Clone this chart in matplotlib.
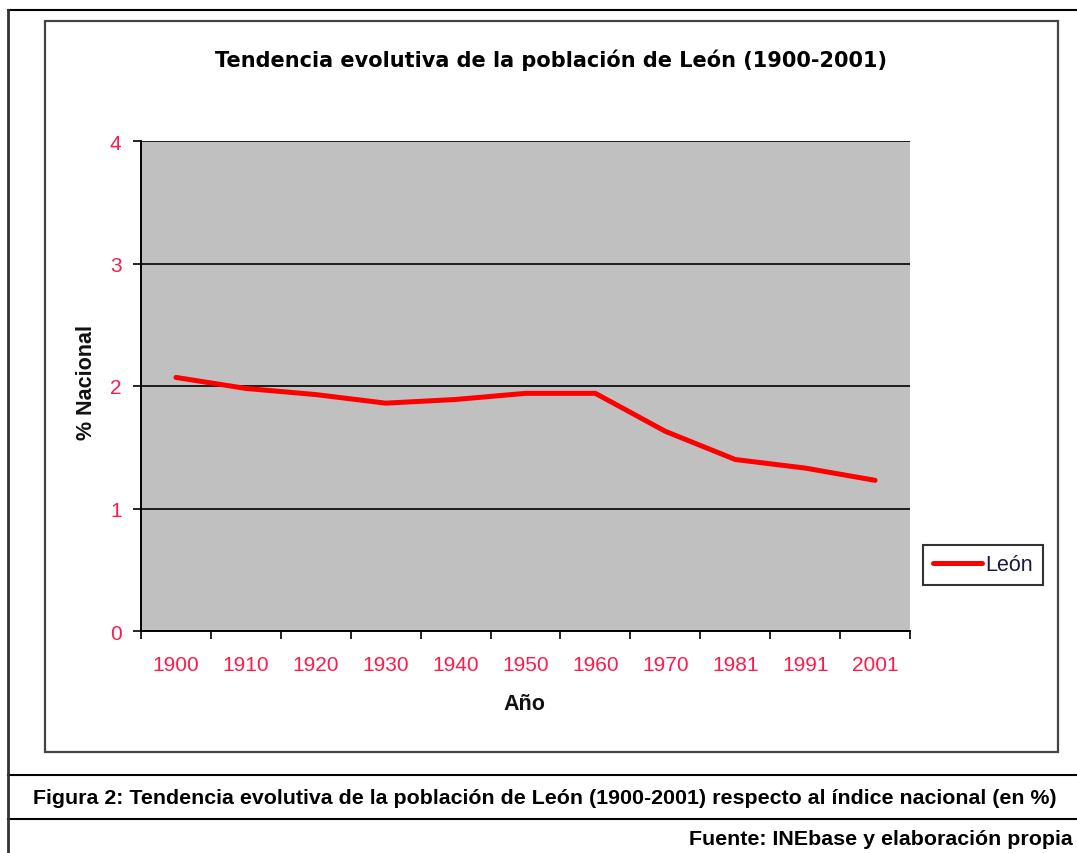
import matplotlib
matplotlib.use("Agg")
import matplotlib.pyplot as plt
from matplotlib.lines import Line2D
from matplotlib.patches import Rectangle

# ---- data ----
years = ["1900", "1910", "1920", "1930", "1940", "1950", "1960", "1970", "1981", "1991", "2001"]
leon = [2.07, 1.98, 1.93, 1.86, 1.89, 1.94, 1.94, 1.63, 1.40, 1.33, 1.23]
yticks = [0, 1, 2, 3, 4]

title = "Tendencia evolutiva de la población de León (1900-2001)"
caption = "Figura 2: Tendencia evolutiva de la población de León (1900-2001) respecto al índice nacional (en %)"
source = "Fuente: INEbase y elaboración propia"

W, H = 1077, 854
fig = plt.figure(figsize=(W / 100, H / 100), dpi=100)
fig.patch.set_facecolor("white")

def fx(px):
    return px / W

def fy(py):
    return 1 - py / H

TICK_RED = "#ff1a4a"

# axes: plot area 141..910 x, 142..632 y
ax = fig.add_axes([fx(141), fy(632), fx(910) - fx(141), fy(142) - fy(632)])
ax.set_facecolor("#c0c0c0")
x = [i + 0.5 for i in range(len(years))]
line, = ax.plot(x, leon, color="#ff0000", lw=3.6, solid_capstyle="round",
                solid_joinstyle="round", zorder=3, label="León")
ax.set_xlim(0, len(years))
ax.set_ylim(0, 4)
ax.set_yticks(yticks)
ax.set_yticklabels([str(v) for v in yticks])
ax.yaxis.grid(True, color="black", lw=1.2)
ax.set_axisbelow(True)
ax.set_xticks(range(len(years) + 1))
ax.set_xticklabels([])
ax.set_xticks(x, minor=True)
ax.set_xticklabels(years, minor=True)
ax.tick_params(axis="x", which="major", length=6, width=1.2, color="black", direction="out")
ax.tick_params(axis="x", which="minor", length=0, pad=17, labelsize=15, labelcolor=TICK_RED)
ax.tick_params(axis="y", length=6, width=1.2, color="black", direction="out", pad=8,
               labelsize=15, labelcolor=TICK_RED)
for lab in ax.get_xticklabels(minor=True) + ax.get_yticklabels():
    lab.set_fontfamily("Liberation Sans")
for s in ["top", "right"]:
    ax.spines[s].set_visible(False)
for s in ["left", "bottom"]:
    ax.spines[s].set_color("black")
    ax.spines[s].set_linewidth(1.4)

# axis labels as figure texts
fig.text(fx(524), fy(705), "Año", ha="center", va="center", fontsize=15.5,
         fontweight="bold", family="Liberation Sans", color="#111111")
fig.text(fx(86), fy(383), "% Nacional", ha="center", va="center", rotation=90,
         fontsize=15.5, fontweight="bold", family="Liberation Sans", color="#111111")

# title
t = fig.text(fx(551), fy(60), title, ha="center", va="center", fontsize=14,
             fontweight="bold", family="DejaVu Sans", color="black")

# legend
leg = fig.legend(handles=[line], labels=["León"], loc="center left",
                 bbox_to_anchor=(fx(923), fy(566)), frameon=True, fancybox=False,
                 prop={"family": "Liberation Sans", "size": 15.5}, handlelength=2.3,
                 handletextpad=0.15, borderpad=0.45, borderaxespad=0)
leg.get_frame().set_edgecolor("black")
leg.get_frame().set_linewidth(1.5)
for tx in leg.get_texts():
    tx.set_color("#1a1a40")

# frames
fig.add_artist(Rectangle((fx(45), fy(753)), fx(1058) - fx(45), fy(22) - fy(753),
                         transform=fig.transFigure, fill=False, edgecolor="#444444", lw=1.6))
for yy in [11, 776, 820]:
    fig.add_artist(Line2D([fx(8), 1], [fy(yy), fy(yy)], transform=fig.transFigure,
                          color="black", lw=1.5))
fig.add_artist(Line2D([fx(8), fx(8)], [fy(11), 0], transform=fig.transFigure,
                      color="#333333", lw=2))

# caption and source
c = fig.text(fx(545), fy(799), caption, ha="center", va="center", fontsize=13,
             fontweight="bold", family="Liberation Sans", color="black")
s = fig.text(fx(1073), fy(840), source, ha="right", va="center", fontsize=13,
             fontweight="bold", family="Liberation Sans", color="black")

# fit title and caption widths to reference
fig.canvas.draw()
r = fig.canvas.get_renderer()
for txt, target in [(t, 673), (c, 1017)]:
    w = txt.get_window_extent(r).width
    txt.set_fontsize(txt.get_fontsize() * target / w)
s.set_fontsize(c.get_fontsize())

fig.savefig("out.png", dpi=100, facecolor="white")
